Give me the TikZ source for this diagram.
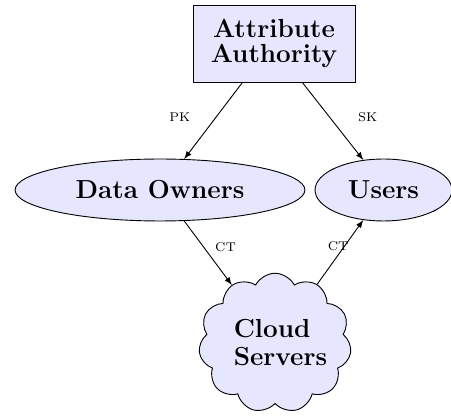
\documentclass[tikz,border=0pt]{standalone}
\usetikzlibrary{shapes.geometric,shapes.symbols,arrows}
\definecolor{nodefill}{RGB}{230,230,255}
\begin{document}
\begin{tikzpicture}[x=0.552pt,y=-0.552pt,
  every node/.style={inner sep=0pt},
  base/.style={draw=black, fill=nodefill, line width=0.5pt},
  authbox/.style={base, rectangle, minimum width=89.4pt, minimum height=42.5pt, align=center,
    font=\fontsize{14.4pt}{13.5pt}\selectfont\bfseries},
  party/.style={base, ellipse, minimum height=34.2pt, font=\fontsize{14.4pt}{17pt}\selectfont\bfseries},
  cloudnode/.style={base, cloud, cloud puffs=11, cloud puff arc=125, cloud ignores aspect, minimum width=76pt, minimum height=77pt,
    align=left, font=\fontsize{14.4pt}{15.5pt}\selectfont\bfseries},
  conn/.style={-latex, line width=0.5pt},
  lbl/.style={font=\scriptsize}
]
\useasboundingbox (0,0) rectangle (451,417);
\node[authbox] (aa) at (274,43.5) {Attribute\\Authority};
\node[party, minimum width=160pt] (do) at (160,190) {Data Owners};
\node[party, minimum width=75.6pt] (users) at (383.5,190) {Users};
\node[cloudnode] (cs) at (275,343) {\hspace*{6pt}Cloud\\\hspace*{6pt}Servers};
\draw[conn] (aa.231) -- node[lbl, midway, shift={(-33.5,-3.5)}] {PK} (do.52);
\draw[conn] (aa.306) -- node[lbl, midway, shift={(35,-4)}] {SK} (users.124);
\draw[conn] (do.-52) -- node[lbl, midway, shift={(17.5,-5.5)}] {CT} (cs);
\draw[conn] (cs) -- node[lbl, midway, shift={(-2,-6)}] {CT} (users.236);
\end{tikzpicture}
\end{document}
